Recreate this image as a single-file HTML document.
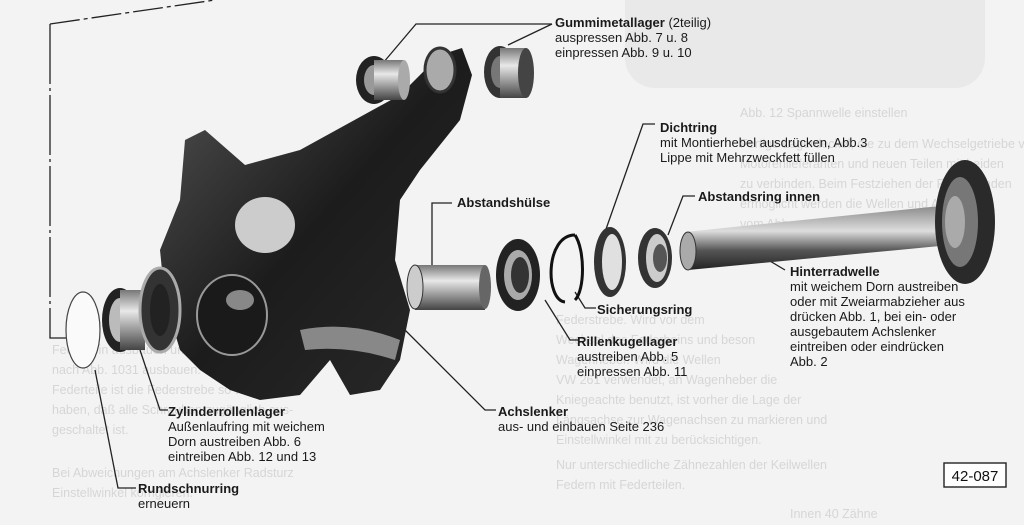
<!DOCTYPE html>
<html><head><meta charset="utf-8"><style>
html,body{margin:0;padding:0}
body{width:1024px;height:525px;overflow:hidden;background:#f3f3f3;position:relative;font-family:"Liberation Sans",sans-serif;color:#1a1a1a}
.t{position:absolute;font-size:13px;line-height:15px;white-space:nowrap}
.b{font-weight:bold}
.g{position:absolute;font-size:12.5px;line-height:19px;color:#d6d6d6;white-space:nowrap}
svg{position:absolute;left:0;top:0}
</style></head><body>
<div style="position:absolute;left:625px;top:0;width:360px;height:88px;background:#e9e9e9;border-radius:0 0 30px 30px"></div>
<div class="g" style="left:740px;top:104px">Abb. 12 Spannwelle einstellen</div>
<div class="g" style="left:740px;top:134px;line-height:20px">Fertige Lagerdeckel, die zu dem Wechselgetriebe von<br>Motorenlieferanten und neuen Teilen mit beiden<br>zu verbinden. Beim Festziehen der Festteilenden<br>ermöglicht werden die Wellen und Achsen<br>vom Abb.</div>
<div class="g" style="left:556px;top:310px;line-height:20px">Federstrebe. Wird vor dem<br>Wechsel des Federbeins und beson<br>Wagenheber. Wird die Wellen<br>VW 261 verwendet, an Wagenheber die<br>Kniegeachte benutzt, ist vorher die Lage der<br>Längsachse zur Wagenachsen zu markieren und<br>Einstellwinkel mit zu berücksichtigen.</div>
<div class="g" style="left:556px;top:455px;line-height:20px">Nur unterschiedliche Zähnezahlen der Keilwellen<br>Federn mit Federteilen.</div>
<div class="g" style="left:790px;top:505px">Innen 40 Zähne</div>
<div class="g" style="left:52px;top:340px;line-height:20px">Federbein ausbauen und einbauen mit weichem<br>nach Abb. 1031 ausbauen. Die Federbein und<br>Federteile ist die Federstrebe so weit ange-<br>haben, daß alle Schrauben zugänglich aus-<br>geschaltet ist.</div>
<div class="g" style="left:52px;top:463px;line-height:20px">Bei Abweichungen am Achslenker Radsturz<br>Einstellwinkel korrigieren.</div>

<svg width="1024" height="525" viewBox="0 0 1024 525">
<defs>
<linearGradient id="dk" x1="0" y1="0" x2="1" y2="1"><stop offset="0" stop-color="#555"/><stop offset=".5" stop-color="#1c1c1c"/><stop offset="1" stop-color="#2a2a2a"/></linearGradient>
<linearGradient id="sh" x1="0" y1="0" x2="0" y2="1"><stop offset="0" stop-color="#888"/><stop offset=".4" stop-color="#ddd"/><stop offset=".7" stop-color="#555"/><stop offset="1" stop-color="#222"/></linearGradient>
<linearGradient id="cy" x1="0" y1="0" x2="0" y2="1"><stop offset="0" stop-color="#777"/><stop offset=".35" stop-color="#e8e8e8"/><stop offset="1" stop-color="#444"/></linearGradient>
</defs>
<g fill="none" stroke="#222" stroke-width="1.3">
<path d="M50 24 L215 0" stroke-dasharray="30 4 4 4"/>
<path d="M50 24 V338 H70" stroke-dasharray="60 4 3 4"/>
<path d="M383 63 L416 24 H552"/><path d="M552 24 L508 45"/>
<path d="M432 270 V203 H452"/>
<path d="M655 124 H643 L605 232"/>
<path d="M695 196 H683 L668 235"/>
<path d="M760 255 L785 270"/>
<path d="M575 292 L585 308 H596"/>
<path d="M545 300 L570 340 H578"/>
<path d="M403 328 L485 410 H496"/>
<path d="M140 350 L160 410 H168"/>
<path d="M95 370 L118 488 H136"/>
</g>
<!-- arm body -->
<path d="M185 140 L205 130 L245 165 L300 150 L400 95 L440 55 L462 48 L472 75 L460 120 L420 170 L400 200 L395 260 L410 310 L400 360 L380 390 L350 395 L330 360 L300 395 L260 400 L230 390 L200 370 L180 350 L165 300 L160 250 L180 200 Z" fill="url(#dk)"/>
<ellipse cx="265" cy="225" rx="30" ry="28" fill="#ccc"/>
<ellipse cx="232" cy="315" rx="35" ry="40" fill="#1a1a1a" stroke="#999" stroke-width="2"/>
<ellipse cx="240" cy="300" rx="14" ry="10" fill="#888"/>
<path d="M300 330 Q350 320 400 340 L395 360 Q350 345 305 350 Z" fill="#888"/>
<!-- bushings top -->
<ellipse cx="374" cy="80" rx="18" ry="24" fill="#222"/><ellipse cx="374" cy="80" rx="10" ry="15" fill="#999"/>
<rect x="374" y="60" width="30" height="40" fill="url(#cy)"/><ellipse cx="404" cy="80" rx="6" ry="20" fill="#aaa"/>
<ellipse cx="440" cy="70" rx="15" ry="22" fill="#aaa" stroke="#333" stroke-width="3"/>
<ellipse cx="500" cy="72" rx="16" ry="26" fill="#333"/><ellipse cx="500" cy="72" rx="9" ry="16" fill="#777"/>
<rect x="500" y="48" width="26" height="50" fill="url(#cy)"/><ellipse cx="526" cy="73" rx="8" ry="25" fill="#444"/>
<!-- left bearings -->
<ellipse cx="83" cy="330" rx="17" ry="38" fill="#fafafa" stroke="#444" stroke-width="1.2"/>
<ellipse cx="120" cy="320" rx="18" ry="32" fill="#222"/><ellipse cx="120" cy="320" rx="11" ry="22" fill="#bbb"/>
<rect x="120" y="290" width="25" height="60" fill="url(#cy)"/>
<ellipse cx="160" cy="310" rx="20" ry="42" fill="#333" stroke="#aaa" stroke-width="3"/><ellipse cx="160" cy="310" rx="10" ry="26" fill="#222"/>
<!-- sleeve -->
<rect x="415" y="265" width="70" height="45" fill="url(#cy)"/><ellipse cx="485" cy="287" rx="6" ry="22" fill="#666"/><ellipse cx="415" cy="287" rx="8" ry="22" fill="#ccc" stroke="#333"/>
<!-- ball bearing -->
<ellipse cx="518" cy="275" rx="22" ry="36" fill="#222"/><ellipse cx="518" cy="275" rx="14" ry="25" fill="#aaa"/><ellipse cx="520" cy="275" rx="9" ry="18" fill="#333"/>
<!-- circlip -->
<path d="M575 235 C545 235 545 300 565 302 M575 235 C585 250 585 290 575 300" fill="none" stroke="#111" stroke-width="3"/>
<!-- seal -->
<ellipse cx="610" cy="262" rx="16" ry="35" fill="#333"/><ellipse cx="612" cy="262" rx="10" ry="28" fill="#e0e0e0"/>
<!-- spacer ring -->
<ellipse cx="655" cy="258" rx="17" ry="30" fill="#333"/><ellipse cx="657" cy="258" rx="11" ry="24" fill="#ccc"/><ellipse cx="660" cy="258" rx="7" ry="14" fill="#555"/>
<!-- shaft -->
<path d="M685 232 L950 205 L950 245 L688 270 Z" fill="url(#sh)"/>
<ellipse cx="688" cy="251" rx="8" ry="19" fill="#aaa" stroke="#333"/>
<ellipse cx="965" cy="222" rx="30" ry="62" fill="#2a2a2a"/><ellipse cx="960" cy="222" rx="18" ry="45" fill="#777"/><ellipse cx="955" cy="222" rx="10" ry="26" fill="#aaa"/>
<rect x="944" y="463" width="62" height="24" fill="#fff" stroke="#222" stroke-width="1.4"/>
<text x="975" y="481" text-anchor="middle" font-family="Liberation Sans" font-size="15" fill="#111">42-087</text>
</svg>

<div class="t" style="left:555px;top:15px"><span class="b">Gummimetallager</span> (2teilig)<br>auspressen Abb. 7 u. 8<br>einpressen Abb. 9 u. 10</div>
<div class="t" style="left:660px;top:120px"><span class="b">Dichtring</span><br>mit Montierhebel ausdrücken, Abb.3<br>Lippe mit Mehrzweckfett füllen</div>
<div class="t b" style="left:698px;top:189px">Abstandsring innen</div>
<div class="t b" style="left:457px;top:195px">Abstandshülse</div>
<div class="t" style="left:790px;top:264px"><span class="b">Hinterradwelle</span><br>mit weichem Dorn austreiben<br>oder mit Zweiarmabzieher aus<br>drücken Abb. 1, bei ein- oder<br>ausgebautem Achslenker<br>eintreiben oder eindrücken<br>Abb. 2</div>
<div class="t b" style="left:597px;top:302px">Sicherungsring</div>
<div class="t" style="left:577px;top:334px"><span class="b">Rillenkugellager</span><br>austreiben Abb. 5<br>einpressen Abb. 11</div>
<div class="t" style="left:498px;top:404px"><span class="b">Achslenker</span><br>aus- und einbauen Seite 236</div>
<div class="t" style="left:168px;top:404px"><span class="b">Zylinderrollenlager</span><br>Außenlaufring mit weichem<br>Dorn austreiben Abb. 6<br>eintreiben Abb. 12 und 13</div>
<div class="t" style="left:138px;top:481px"><span class="b">Rundschnurring</span><br>erneuern</div>
</body></html>
